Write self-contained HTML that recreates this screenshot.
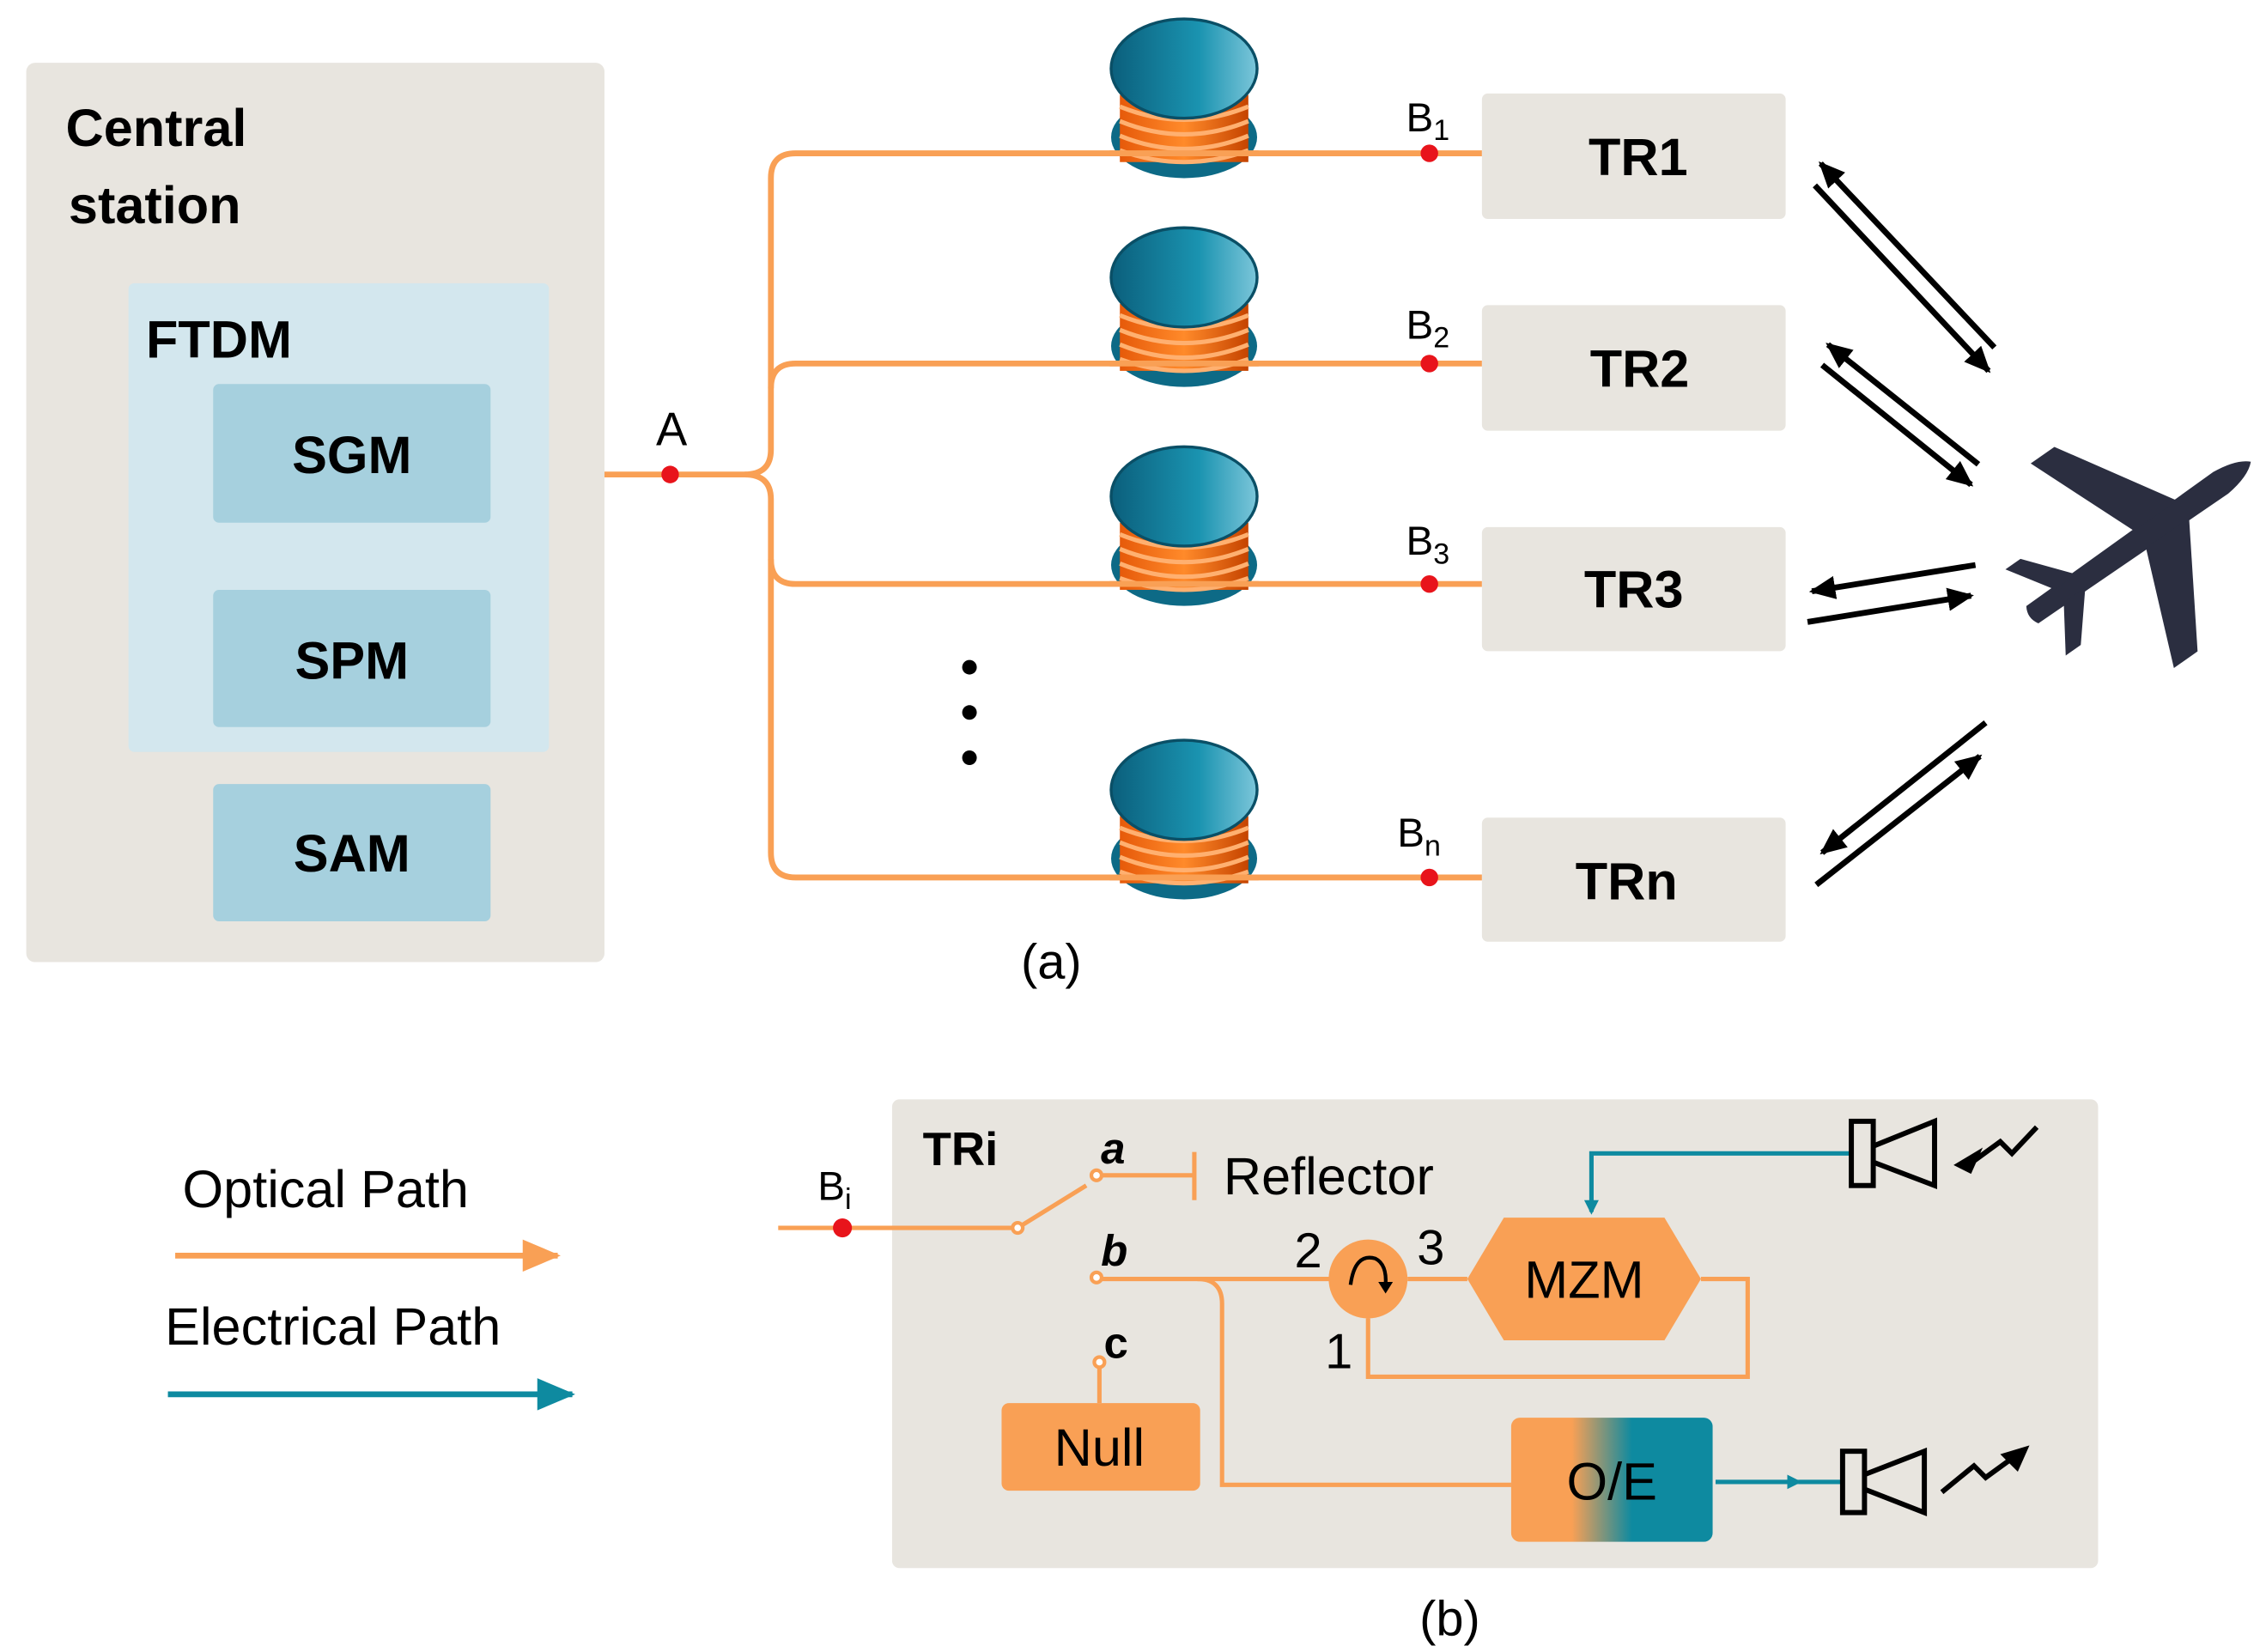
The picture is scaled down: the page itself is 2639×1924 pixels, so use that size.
<!DOCTYPE html>
<html><head><meta charset="utf-8"><style>
html,body{margin:0;padding:0;background:#fff;}
svg{display:block;}
text{font-family:"Liberation Sans","DejaVu Sans",sans-serif;}
</style></head><body>
<svg width="2639" height="1924" viewBox="0 0 1552 1131.5" preserveAspectRatio="none" xmlns="http://www.w3.org/2000/svg">
<defs>
<linearGradient id="top" x1="0" x2="1"><stop offset="0" stop-color="#0b5f7c"/><stop offset="0.6" stop-color="#1a93b0"/><stop offset="1" stop-color="#7cc6da"/></linearGradient>
<linearGradient id="oe" x1="0" x2="1"><stop offset="0" stop-color="#f9a055"/><stop offset="0.3" stop-color="#f9a055"/><stop offset="0.6" stop-color="#0e8aa0"/><stop offset="1" stop-color="#0e8aa0"/></linearGradient>
<linearGradient id="coil" x1="0" x2="1"><stop offset="0" stop-color="#e65a0a"/><stop offset="0.5" stop-color="#ff8a2a"/><stop offset="1" stop-color="#c54400"/></linearGradient>
<marker id="ao" markerWidth="10" markerHeight="10" refX="8" refY="5" orient="auto" markerUnits="userSpaceOnUse"><path d="M0,0L10,5L0,10z" fill="#f9a055"/></marker>
<marker id="at" markerWidth="10" markerHeight="10" refX="8" refY="5" orient="auto" markerUnits="userSpaceOnUse"><path d="M0,0L10,5L0,10z" fill="#0e8aa0"/></marker>
<marker id="ak" markerWidth="18" markerHeight="16" refX="16" refY="8" orient="auto" markerUnits="userSpaceOnUse"><path d="M0,0L18,8L0,16z" fill="#000"/></marker>
<marker id="ao2" markerWidth="26" markerHeight="22" refX="24" refY="11" orient="auto" markerUnits="userSpaceOnUse"><path d="M0,0L26,11L0,22z" fill="#f9a055"/></marker>
<marker id="at2" markerWidth="26" markerHeight="22" refX="24" refY="11" orient="auto" markerUnits="userSpaceOnUse"><path d="M0,0L26,11L0,22z" fill="#0e8aa0"/></marker>
<g id="coilg">
<ellipse cx="0" cy="47" rx="50" ry="28" fill="#0d6a86"/>
<rect x="-44" y="18" width="88" height="46" fill="url(#coil)"/>
<g fill="none" stroke="#ffb070" stroke-width="3">
<path d="M-44,26 Q0,44 44,26"/><path d="M-44,36 Q0,54 44,36"/><path d="M-44,46 Q0,64 44,46"/><path d="M-44,56 Q0,72 44,56"/></g>
<ellipse cx="0" cy="0" rx="50" ry="34" fill="url(#top)"/>
<ellipse cx="0" cy="0" rx="50" ry="34" fill="none" stroke="#0a4f66" stroke-width="2"/>
</g>
</defs>

<rect x="18" y="43" width="396" height="616" rx="6" fill="#e8e5df"/>
<text x="45" y="100" font-size="36" font-weight="bold">Central</text>
<text x="47" y="153" font-size="36" font-weight="bold">station</text>
<rect x="88" y="194" width="288" height="321" rx="4" fill="#d3e7ee"/>
<text x="100" y="245" font-size="36" font-weight="bold">FTDM</text>
<rect x="146" y="263" width="190" height="95" rx="4" fill="#a6d0de"/>
<text x="241" y="324" font-size="36" font-weight="bold" text-anchor="middle">SGM</text>
<rect x="146" y="404" width="190" height="94" rx="4" fill="#a6d0de"/>
<text x="241" y="465" font-size="36" font-weight="bold" text-anchor="middle">SPM</text>
<rect x="146" y="537" width="190" height="94" rx="4" fill="#a6d0de"/>
<text x="241" y="597" font-size="36" font-weight="bold" text-anchor="middle">SAM</text>

<g fill="none" stroke="#f9a055" stroke-width="4">
<path d="M414,325 H510 Q528,325 528,308 V122 Q528,105 545,105 H1015"/>
<path d="M510,325 Q528,325 528,342 V584 Q528,601 545,601 H1015"/>
<path d="M528,266 Q528,249 545,249 H1015"/>
<path d="M528,383 Q528,400 545,400 H1015"/>
</g>
<circle cx="459" cy="325" r="6" fill="#e8141b"/>
<text x="460" y="305" font-size="32" text-anchor="middle">A</text>

<use href="#coilg" x="811" y="47"/>
<use href="#coilg" x="811" y="190"/>
<use href="#coilg" x="811" y="340"/>
<use href="#coilg" x="811" y="541"/>
<g stroke="#f9a055" stroke-width="4"><line x1="760" y1="105" x2="862" y2="105"/><line x1="760" y1="249" x2="862" y2="249"/><line x1="760" y1="400" x2="862" y2="400"/><line x1="760" y1="601" x2="862" y2="601"/></g>

<g font-size="28">
<text x="963" y="90">B<tspan font-size="20" dy="6">1</tspan></text>
<text x="963" y="232">B<tspan font-size="20" dy="6">2</tspan></text>
<text x="963" y="380">B<tspan font-size="20" dy="6">3</tspan></text>
<text x="957" y="580">B<tspan font-size="20" dy="6">n</tspan></text>
</g>
<g fill="#e8141b"><circle cx="979" cy="105" r="6"/><circle cx="979" cy="249" r="6"/><circle cx="979" cy="400" r="6"/><circle cx="979" cy="601" r="6"/></g>

<g fill="#000"><circle cx="664" cy="457" r="5"/><circle cx="664" cy="488" r="5"/><circle cx="664" cy="519" r="5"/></g>

<g fill="#e8e5df">
<rect x="1015" y="64" width="208" height="86" rx="4"/>
<rect x="1015" y="209" width="208" height="86" rx="4"/>
<rect x="1015" y="361" width="208" height="85" rx="4"/>
<rect x="1015" y="560" width="208" height="85" rx="4"/>
</g>
<g font-size="36" font-weight="bold" text-anchor="middle">
<text x="1122" y="120">TR1</text><text x="1123" y="265">TR2</text><text x="1119" y="416">TR3</text><text x="1114" y="616">TRn</text>
</g>

<g stroke="#000" stroke-width="4" fill="none">
<line x1="1366" y1="238" x2="1247" y2="112" marker-end="url(#ak)"/>
<line x1="1243" y1="127" x2="1362" y2="254" marker-end="url(#ak)"/>
<line x1="1355" y1="318" x2="1252" y2="236" marker-end="url(#ak)"/>
<line x1="1248" y1="250" x2="1350" y2="332" marker-end="url(#ak)"/>
<line x1="1353" y1="387" x2="1241" y2="405" marker-end="url(#ak)"/>
<line x1="1238" y1="426" x2="1350" y2="408" marker-end="url(#ak)"/>
<line x1="1360" y1="495" x2="1248" y2="584" marker-end="url(#ak)"/>
<line x1="1244" y1="606" x2="1356" y2="518" marker-end="url(#ak)"/>
</g>

<g fill="#2b2e40" transform="translate(1462,372) rotate(-35) scale(0.9)">
<path d="M-95,-8 Q-100,0 -95,8 L80,10 Q100,8 108,0 Q100,-8 80,-10 Z"/>
<path d="M5,-8 L-30,-95 L-8,-95 L45,-8 Z"/>
<path d="M5,8 L-30,95 L-8,95 L45,8 Z"/>
<path d="M-70,-6 L-92,-40 L-78,-40 L-50,-6 Z"/>
<path d="M-70,6 L-92,40 L-78,40 L-50,6 Z"/>
</g>

<text x="720" y="670" font-size="34" text-anchor="middle">(a)</text>

<text x="125" y="827" font-size="36">Optical Path</text>
<line x1="120" y1="860" x2="382" y2="860" stroke="#f9a055" stroke-width="4" marker-end="url(#ao2)"/>
<text x="113" y="921" font-size="36">Electrical Path</text>
<line x1="115" y1="955" x2="392" y2="955" stroke="#0e8aa0" stroke-width="4" marker-end="url(#at2)"/>

<rect x="611" y="753" width="826" height="321" rx="5" fill="#e8e5df"/>
<text x="632" y="798" font-size="32" font-weight="bold">TRi</text>
<text x="560" y="822" font-size="28">B<tspan font-size="20" dy="6">i</tspan></text>
<g fill="none" stroke="#f9a055" stroke-width="3">
<line x1="533" y1="841" x2="697" y2="841"/>
<line x1="697" y1="841" x2="744" y2="812"/>
<line x1="755" y1="805" x2="818" y2="805"/>
<line x1="818" y1="789" x2="818" y2="822"/>
<path d="M755,876 H912"/>
<path d="M820,876 Q837,876 837,893 V1017 H1035"/>
<path d="M964,876 H1005"/>
<path d="M1165,876 H1197 V943 H937 V903"/>
<line x1="753" y1="937" x2="753" y2="961"/>
</g>
<g fill="#fff" stroke="#f9a055" stroke-width="2.5"><circle cx="697" cy="841" r="3.5"/><circle cx="751" cy="805" r="3.5"/><circle cx="751" cy="875" r="3.5"/><circle cx="753" cy="933" r="3.5"/></g>
<circle cx="577" cy="841" r="6.5" fill="#e8141b"/>
<text x="754" y="797" font-size="30" font-weight="bold" font-style="italic">a</text>
<text x="754" y="867" font-size="30" font-weight="bold" font-style="italic">b</text>
<text x="756" y="930" font-size="30" font-weight="bold">c</text>
<text x="838" y="818" font-size="36">Reflector</text>

<circle cx="937" cy="876" r="27" fill="#f9a055"/>
<path d="M925,880 Q928,858 942,862 Q950,866 949,880" fill="none" stroke="#000" stroke-width="2.5"/>
<path d="M944,878 L954,878 L949,886Z" fill="#000"/>
<text x="896" y="868" font-size="34" text-anchor="middle">2</text>
<text x="980" y="866" font-size="34" text-anchor="middle">3</text>
<text x="917" y="937" font-size="34" text-anchor="middle">1</text>

<path d="M1005,876 L1030,834 H1140 L1165,876 L1140,918 H1030 Z" fill="#f9a055"/>
<text x="1085" y="889" font-size="36" text-anchor="middle">MZM</text>

<rect x="686" y="961" width="136" height="60" rx="5" fill="#f9a055"/>
<text x="753" y="1004" font-size="36" text-anchor="middle">Null</text>

<rect x="1035" y="971" width="138" height="85" rx="6" fill="url(#oe)"/>
<text x="1104" y="1027" font-size="36" text-anchor="middle">O/E</text>

<line x1="1175" y1="1015" x2="1232" y2="1015" stroke="#0e8aa0" stroke-width="3" marker-end="url(#at)"/>
<line x1="1232" y1="1015" x2="1262" y2="1015" stroke="#0e8aa0" stroke-width="3"/>
<path d="M1268,790 H1090 V830" fill="none" stroke="#0e8aa0" stroke-width="3" marker-end="url(#at)"/>

<g fill="none" stroke="#000" stroke-width="3.5">
<rect x="1268" y="768" width="15" height="44"/>
<path d="M1283,785 L1325,768 V812 L1283,796"/>
<path d="M1395,772 L1378,790 L1370,782 L1348,798"/>
<rect x="1262" y="994" width="15" height="42"/>
<path d="M1277,1010 L1318,994 V1036 L1277,1020"/>
<path d="M1330,1022 L1352,1004 L1360,1012 L1382,996"/>
</g>
<path d="M1338,798 L1358,786 L1350,804Z" fill="#000"/>
<path d="M1390,990 L1370,996 L1382,1008Z" fill="#000"/>

<text x="993" y="1120" font-size="34" text-anchor="middle">(b)</text>
</svg>
</body></html>
